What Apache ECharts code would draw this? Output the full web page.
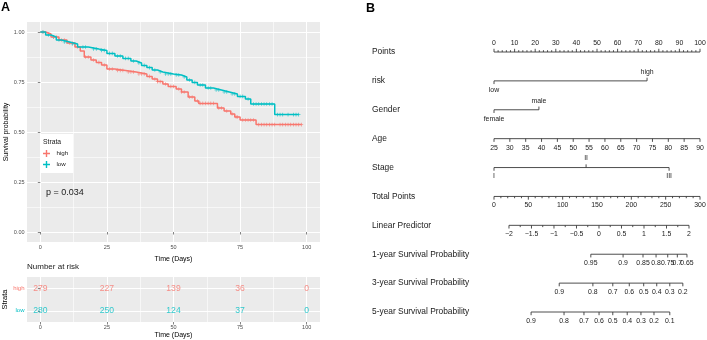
<!DOCTYPE html>
<html>
<head>
<meta charset="utf-8">
<title>KM curve and nomogram</title>
<script src="https://cdn.jsdelivr.net/npm/echarts@6/dist/echarts.min.js"></script>
<style>
  html, body { margin: 0; padding: 0; background: #fff; }
  #chart { width: 707px; height: 340px; }
</style>
</head>
<body>
<div id="chart"></div>
<script>
  // ---------- A: Kaplan-Meier curves (time in days / survival probability) ----------
  const highTimes = [0, 2, 4, 7, 10, 13, 15, 16.5, 19, 21, 23, 25, 28, 32, 36, 40, 42, 44, 46, 48, 51, 53, 55.5, 58, 59.5, 66.5, 69, 71.5, 73, 75, 81, 98]
  const highSurv = [1, 0.99, 0.975, 0.96, 0.945, 0.925, 0.905, 0.875, 0.86, 0.848, 0.835, 0.815, 0.808, 0.8, 0.79, 0.778, 0.765, 0.752, 0.74, 0.728, 0.715, 0.7, 0.675, 0.655, 0.643, 0.62, 0.605, 0.59, 0.575, 0.56, 0.537, 0.537]
  const lowTimes = [0, 2, 4, 6, 8, 11, 14, 18, 22, 25, 28, 31, 34, 36, 38, 40, 42, 44, 46, 50, 53, 55, 57, 59, 62, 65, 68, 71, 74, 77, 79, 88, 97]
  const lowSurv = [1, 0.985, 0.975, 0.96, 0.95, 0.94, 0.925, 0.915, 0.908, 0.893, 0.88, 0.868, 0.855, 0.845, 0.833, 0.822, 0.81, 0.8, 0.79, 0.785, 0.775, 0.76, 0.748, 0.735, 0.72, 0.71, 0.7, 0.69, 0.678, 0.665, 0.64, 0.587, 0.587]

  // censoring times (+ marks)
  const highCensor = [1, 3, 5, 6, 8, 9, 11, 12, 14, 17, 18, 20, 22, 24, 26, 27, 29, 30, 31, 33, 34, 35, 37, 38, 39, 41, 43, 44, 45, 47, 49, 50, 52, 53, 54, 56, 57, 59, 60, 61, 62, 63, 64, 65, 67, 68, 70, 72, 73.5, 74, 76, 77, 78, 79, 80, 82, 83, 84, 85, 86, 87, 88, 90, 91, 92, 93, 94, 95, 96, 97, 98]
  const lowCensor = [1, 3, 5, 7, 9, 10, 12, 13, 16, 17, 20, 21, 23, 24, 26, 27, 29, 30, 32, 33, 35, 37, 39, 41, 43, 45, 47, 48, 49, 51, 52, 54, 56, 58, 60, 61, 63, 64, 66, 67, 69, 70, 72, 73, 75, 76, 78, 80, 81, 82, 83, 84, 85, 86, 87, 89, 90, 91, 93, 95, 96, 97]

  // number at risk
  const riskTimes = [0, 25, 50, 75, 100]
  const riskHigh = [279, 227, 139, 36, 0]
  const riskLow = [280, 250, 124, 37, 0]

  const timeTicks = [0, 25, 50, 75, 100]
  const timeMinor = [12.5, 37.5, 62.5, 87.5]
  const survTicks = [0, 0.25, 0.5, 0.75, 1]
  const survMinor = [0.125, 0.375, 0.625, 0.875]
  const pValueText = 'p = 0.034'

  // ---------- B: nomogram ----------
  const nomoRowNames = ['Points', 'risk', 'Gender', 'Age', 'Stage', 'Total Points', 'Linear Predictor',
    '1-year Survival Probability', '3-year Survival Probability', '5-year Survival Probability']
  const pointsLabels = [0, 10, 20, 30, 40, 50, 60, 70, 80, 90, 100]
  const riskLevels = ['low', 'high']
  const riskPoints = [0, 74.3]
  const genderLevels = ['female', 'male']
  const genderPoints = [0, 21.8]
  const ageLabels = [25, 30, 35, 40, 45, 50, 55, 60, 65, 70, 75, 80, 85, 90]
  const stageLevels = ['I', 'II', 'III']
  const stagePoints = [0, 44.7, 85]
  const totalLabels = [0, 50, 100, 150, 200, 250, 300]
  const lpLabels = [-2, -1.5, -1, -0.5, 0, 0.5, 1, 1.5, 2]
  const lpTotalAtEnds = [21.8, 284] // total points where LP = -2 and LP = 2
  const surv1Labels = ['0.95', '0.9', '0.85', '0.8', '0.75', '0.7', '0.65']
  const surv1Total = [141, 188, 217, 236, 253, 267, 281]
  const surv3Labels = ['0.9', '0.8', '0.7', '0.6', '0.5', '0.4', '0.3', '0.2']
  const surv3Total = [95, 144, 173, 197, 218, 237, 256, 275]
  const surv5Labels = ['0.9', '0.8', '0.7', '0.6', '0.5', '0.4', '0.3', '0.2', '0.1']
  const surv5Total = [54, 102, 131, 153, 173, 194, 214, 233, 256]

  const FONT = '"Liberation Sans", Arial, Helvetica, sans-serif'
  const RED = '#F8766D'
  const TEAL = '#00BFC4'
  const PANEL = '#EBEBEB'
  const PLUS = 'path://M0,4h10v2h-10zM4,0h2v10h-2z'

  function survAt(times, surv, t) {
    let s = surv[0]
    for (let i = 0; i < times.length; i++) {
      if (times[i] <= t) s = surv[i]
    }
    return s
  }

  // ---- build nomogram rows, every position in "points" units (0..100) ----
  const totalToPoints = (t) => t / 3
  const ageToPoints = (a) => (a - ageLabels[0]) / (ageLabels[ageLabels.length - 1] - ageLabels[0]) * 100
  const lpToPoints = (v) => totalToPoints(lpTotalAtEnds[0] + (v + 2) / 4 * (lpTotalAtEnds[1] - lpTotalAtEnds[0]))
  const minus = (v) => (v < 0 ? '\u2212' + Math.abs(v) : String(v))

  function levelTicks(levels, pts) {
    // labels alternate below / above, as in rms::nomogram
    return levels.map((l, i) => ({ at: pts[i], label: l, up: i % 2 === 1 }))
  }

  function scaleTicks(labels, toPts, minorStep, up, fmt) {
    const ticks = []
    const lo = labels[0], hi = labels[labels.length - 1]
    if (minorStep) {
      for (let v = lo; v <= hi + 1e-9; v += minorStep) {
        if (!labels.some(l => Math.abs(l - v) < 1e-9)) ticks.push({ at: toPts(v), up, minor: true })
      }
    }
    labels.forEach(l => ticks.push({ at: toPts(l), label: fmt ? fmt(l) : String(l), up }))
    return ticks
  }

  function survTicksRow(labels, totals) {
    return labels.map((l, i) => ({ at: totalToPoints(totals[i]), label: l, up: false }))
  }

  const nomoTicks = [
    scaleTicks(pointsLabels, v => v, 2, true),
    levelTicks(riskLevels, riskPoints),
    levelTicks(genderLevels, genderPoints),
    scaleTicks(ageLabels, ageToPoints, 0, false),
    levelTicks(stageLevels, stagePoints),
    scaleTicks(totalLabels, totalToPoints, 10, false),
    scaleTicks(lpLabels, lpToPoints, 0.25, false, minus),
    survTicksRow(surv1Labels, surv1Total),
    survTicksRow(surv3Labels, surv3Total),
    survTicksRow(surv5Labels, surv5Total)
  ]
  const nomoRows = nomoTicks.map((ticks, i) => {
    const xs = ticks.map(t => t.at)
    return { row: i, from: Math.min(...xs), to: Math.max(...xs), ticks }
  })

  function renderNomoRow(params, api) {
    const r = nomoRows[params.dataIndex]
    const p0 = api.coord([r.from, r.row])
    const p1 = api.coord([r.to, r.row])
    const y = p0[1]
    const stroke = { stroke: '#3a3a3a', lineWidth: 0.9 }
    const children = [{ type: 'line', shape: { x1: p0[0], y1: y, x2: p1[0], y2: y }, style: stroke }]
    r.ticks.forEach(t => {
      const x = api.coord([t.at, r.row])[0]
      const dir = t.up ? -1 : 1
      const len = t.minor ? 1.8 : 3.2
      children.push({ type: 'line', shape: { x1: x, y1: y, x2: x, y2: y + dir * len }, style: stroke })
      if (t.label != null) {
        children.push({
          type: 'text',
          style: {
            text: t.label, x: x, y: y + dir * 9, align: 'center', verticalAlign: 'middle',
            fontSize: 6.9, fontFamily: FONT, fill: '#1a1a1a'
          }
        })
      }
    })
    return { type: 'group', children }
  }

  // ---- common axis pieces ----
  const tickLabel = { fontSize: 5.5, color: '#4D4D4D', fontFamily: FONT, margin: 2.5 }
  const tickLine = { show: true, length: 2.5, lineStyle: { color: '#333', width: 0.6 } }
  const whiteMajor = { show: true, lineStyle: { color: '#fff', width: 1 } }
  const whiteMinor = { show: true, lineStyle: { color: '#fff', width: 0.6 } }
  const hiddenAxisBits = { axisLine: { show: false }, axisTick: { show: false }, axisLabel: { show: false } }
  const axisName = { fontSize: 7, color: '#000', fontFamily: FONT }

  function timeAxis(grid, withName) {
    return {
      type: 'value', gridIndex: grid, min: -5, max: 105,
      axisLine: { show: false },
      axisTick: Object.assign({ customValues: timeTicks }, tickLine),
      axisLabel: Object.assign({ customValues: timeTicks }, tickLabel),
      splitLine: whiteMajor,
      name: withName ? 'Time (Days)' : '', nameLocation: 'middle', nameGap: 9.5, nameTextStyle: axisName
    }
  }
  function minorAxis(grid, values, lo, hi) {
    return Object.assign({
      type: 'value', gridIndex: grid, min: lo, max: hi, splitLine: whiteMinor
    }, hiddenAxisBits, {
      axisTick: { show: false, customValues: values },
      axisLabel: { show: false, customValues: values }
    })
  }

  const chart = echarts.init(document.getElementById('chart'), null, { renderer: 'canvas' })

  const option = {
    animation: false,
    backgroundColor: '#fff',
    textStyle: { fontFamily: FONT },
    title: [
      { text: 'A', left: 1, top: 1, padding: 0, textStyle: { fontSize: 12.5, fontWeight: 'bold', color: '#000', fontFamily: FONT } },
      { text: 'B', left: 366, top: 2, padding: 0, textStyle: { fontSize: 12.5, fontWeight: 'bold', color: '#000', fontFamily: FONT } },
      { text: 'Strata', left: 43, top: 138.5, padding: 0, z: 10, textStyle: { fontSize: 6.8, fontWeight: 'normal', color: '#1a1a1a', fontFamily: FONT } },
      { text: pValueText, left: 46, top: 188.5, padding: 0, textStyle: { fontSize: 9, fontWeight: 'normal', color: '#1a1a1a', fontFamily: FONT } },
      { text: 'Number at risk', left: 27, top: 263, padding: 0, textStyle: { fontSize: 8, fontWeight: 'normal', color: '#1a1a1a', fontFamily: FONT } }
    ],
    legend: {
      data: ['high', 'low'],
      orient: 'vertical',
      left: 40, top: 134,
      padding: [16, 5, 5, 3],
      itemGap: 4, itemWidth: 10, itemHeight: 7,
      backgroundColor: '#fff',
      icon: PLUS,
      selectedMode: false,
      textStyle: { fontSize: 6.2, color: '#1a1a1a', fontFamily: FONT }
    },
    grid: [
      { left: 27, top: 22, width: 293, height: 220, show: true, backgroundColor: PANEL, borderWidth: 0, outerBoundsMode: 'none' },
      { left: 27, top: 277, width: 293, height: 45, show: true, backgroundColor: PANEL, borderWidth: 0, outerBoundsMode: 'none' },
      { left: 494, top: 52, width: 206, height: 260, show: false, outerBoundsMode: 'none' }
    ],
    xAxis: [
      timeAxis(0, true),
      minorAxis(0, timeMinor, -5, 105),
      timeAxis(1, true),
      minorAxis(1, timeMinor, -5, 105),
      Object.assign({ type: 'value', gridIndex: 2, min: 0, max: 100, splitLine: { show: false } }, hiddenAxisBits)
    ],
    yAxis: [
      {
        type: 'value', gridIndex: 0, min: -0.05, max: 1.05,
        axisLine: { show: false },
        axisTick: Object.assign({ customValues: survTicks }, tickLine),
        axisLabel: Object.assign({ customValues: survTicks, formatter: v => v.toFixed(2) }, tickLabel),
        splitLine: whiteMajor,
        name: 'Survival probability', nameLocation: 'middle', nameGap: 15.5, nameTextStyle: axisName
      },
      minorAxis(0, survMinor, -0.05, 1.05),
      {
        type: 'value', gridIndex: 1, min: 0.5, max: 2.5,
        axisLine: { show: false },
        axisTick: Object.assign({ customValues: [1, 2] }, tickLine),
        axisLabel: Object.assign({}, tickLabel, {
          customValues: [1, 2],
          fontSize: 6,
          formatter: v => (Number(v) === 2 ? 'high' : 'low'),
          color: v => (Number(v) === 2 ? RED : TEAL)
        }),
        splitLine: whiteMajor,
        name: 'Strata', nameLocation: 'middle', nameGap: 15,
        nameTextStyle: { fontSize: 7.5, color: '#000', fontFamily: FONT }
      },
      {
        type: 'value', gridIndex: 2, min: 0, max: 9, inverse: true,
        axisLine: { show: false },
        axisTick: { show: false },
        splitLine: { show: false },
        axisLabel: {
          customValues: nomoRowNames.map((n, i) => i),
          formatter: v => nomoRowNames[Number(v)],
          align: 'left', margin: 122,
          fontSize: 8.4, color: '#1a1a1a', fontFamily: FONT
        }
      }
    ],
    series: [
      {
        type: 'line', name: 'high', xAxisIndex: 0, yAxisIndex: 0, step: 'end', symbol: 'none', silent: true,
        data: highTimes.map((t, i) => [t, highSurv[i]]),
        lineStyle: { color: RED, width: 1.5 }, itemStyle: { color: RED }
      },
      {
        type: 'line', name: 'low', xAxisIndex: 0, yAxisIndex: 0, step: 'end', symbol: 'none', silent: true,
        data: lowTimes.map((t, i) => [t, lowSurv[i]]),
        lineStyle: { color: TEAL, width: 1.5 }, itemStyle: { color: TEAL }
      },
      {
        type: 'scatter', name: 'high censored', xAxisIndex: 0, yAxisIndex: 0, symbol: PLUS, symbolSize: 3.6, silent: true,
        data: highCensor.map(t => [t, survAt(highTimes, highSurv, t)]),
        itemStyle: { color: RED }
      },
      {
        type: 'scatter', name: 'low censored', xAxisIndex: 0, yAxisIndex: 0, symbol: PLUS, symbolSize: 3.6, silent: true,
        data: lowCensor.map(t => [t, survAt(lowTimes, lowSurv, t)]),
        itemStyle: { color: TEAL }
      },
      {
        type: 'scatter', name: 'risk high', xAxisIndex: 2, yAxisIndex: 2, symbolSize: 1, silent: true,
        data: riskTimes.map((t, i) => [t, 2, riskHigh[i]]),
        itemStyle: { color: 'rgba(0,0,0,0)' },
        label: { show: true, position: 'inside', formatter: p => p.value[2], color: RED, fontSize: 8.6, fontFamily: FONT }
      },
      {
        type: 'scatter', name: 'risk low', xAxisIndex: 2, yAxisIndex: 2, symbolSize: 1, silent: true,
        data: riskTimes.map((t, i) => [t, 1, riskLow[i]]),
        itemStyle: { color: 'rgba(0,0,0,0)' },
        label: { show: true, position: 'inside', formatter: p => p.value[2], color: TEAL, fontSize: 8.6, fontFamily: FONT }
      },
      {
        type: 'custom', name: 'nomogram', xAxisIndex: 4, yAxisIndex: 3, clip: false, silent: true,
        data: nomoRows.map(r => [r.from, r.row]),
        renderItem: renderNomoRow
      }
    ]
  }

  chart.setOption(option)
</script>
</body>
</html>
